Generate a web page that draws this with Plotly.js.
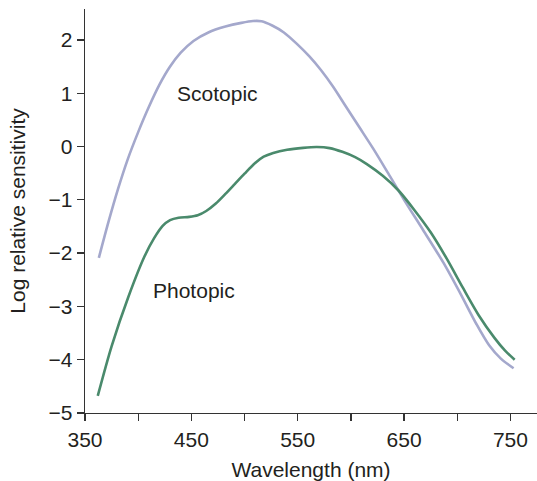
<!DOCTYPE html>
<html>
<head>
<meta charset="utf-8">
<script src="https://cdn.plot.ly/plotly-3.0.1.min.js"></script>
<style>html,body{margin:0;padding:0;background:#fff;}#chart{width:537px;height:481px;}</style>
</head>
<body>
<div id="chart"></div>
<script>
const scotopicX = [363, 372, 381, 390, 400, 410, 420, 430, 440, 452, 466, 482, 497, 508, 516, 526, 537, 549, 561, 572, 583, 595, 608, 621, 635, 650, 668, 687, 703, 718, 730, 741, 753];
const scotopicY = [-2.09, -1.42, -0.80, -0.25, 0.27, 0.74, 1.16, 1.50, 1.76, 1.98, 2.14, 2.25, 2.32, 2.355, 2.35, 2.27, 2.14, 1.93, 1.69, 1.43, 1.13, 0.76, 0.36, -0.04, -0.50, -1.00, -1.57, -2.18, -2.76, -3.33, -3.73, -3.98, -4.16];
const photopicX = [362, 375, 391, 406, 415, 423, 430, 438, 448, 456, 464, 473, 482, 491, 500, 510, 518, 527, 540, 555, 568, 580, 592, 604, 615, 630, 645, 660, 675, 690, 705, 720, 735, 745, 754];
const photopicY = [-4.68, -3.75, -2.81, -2.06, -1.72, -1.49, -1.38, -1.335, -1.32, -1.29, -1.21, -1.07, -0.89, -0.70, -0.51, -0.31, -0.19, -0.12, -0.06, -0.025, -0.01, -0.03, -0.10, -0.20, -0.33, -0.55, -0.83, -1.20, -1.61, -2.10, -2.64, -3.16, -3.59, -3.83, -4.00];
const xTickVals = [350, 400, 450, 500, 550, 600, 650, 700, 750];
const xTickText = ['350', '', '450', '', '550', '', '650', '', '750'];
const yTickVals = [-5, -4, -3, -2, -1, 0, 1, 2];
const labels = [
  {text: 'Scotopic', x: 435, y: 0.99},
  {text: 'Photopic', x: 412, y: -2.71}
];

const fontFam = '"Liberation Sans", Arial, Helvetica, sans-serif';
const txt = {family: fontFam, size: 21, color: '#231f20'};
const traces = [
  {x: scotopicX, y: scotopicY, mode: 'lines', line: {color: '#a4a8cc', width: 2.6, shape: 'spline', smoothing: 0.8}, hoverinfo: 'skip'},
  {x: photopicX, y: photopicY, mode: 'lines', line: {color: '#4a8a6c', width: 2.6, shape: 'spline', smoothing: 0.8}, hoverinfo: 'skip'}
];
const axisCommon = {
  showline: true, linecolor: '#333', linewidth: 1.3,
  ticks: 'outside', ticklen: 7, tickwidth: 1.3, tickcolor: '#333',
  showgrid: false, zeroline: false,
  tickfont: txt
};
const layout = {
  width: 537, height: 481,
  margin: {l: 85, r: 0, t: 9, b: 68},
  showlegend: false,
  paper_bgcolor: '#fff', plot_bgcolor: '#fff',
  font: txt,
  xaxis: Object.assign({}, axisCommon, {
    range: [350, 775], tickmode: 'array', tickvals: xTickVals, ticktext: xTickText,
    title: {text: 'Wavelength (nm)', font: txt, standoff: 12}
  }),
  yaxis: Object.assign({}, axisCommon, {
    range: [-5, 2.58], tickmode: 'array', tickvals: yTickVals,
    title: {text: 'Log relative sensitivity', font: txt, standoff: 17}
  }),
  annotations: labels.map(l => ({
    text: l.text, x: l.x, y: l.y, xref: 'x', yref: 'y', xanchor: 'left', yanchor: 'middle',
    showarrow: false, font: txt
  }))
};
Plotly.newPlot('chart', traces, layout, {staticPlot: true, displayModeBar: false});
</script>
</body>
</html>
